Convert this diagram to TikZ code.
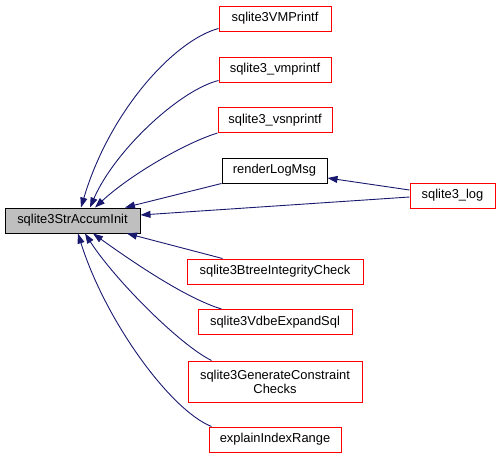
\documentclass[tikz,border=0pt]{standalone}
\usepackage{fontspec}
\setmainfont{Liberation Sans}
\usetikzlibrary{arrows.meta,calc}
\definecolor{edgeblue}{RGB}{25,25,112}
\definecolor{boxred}{RGB}{255,0,0}
\definecolor{mainfill}{RGB}{191,191,191}
\tikzset{
  fn/.style={draw=boxred, line width=1pt, fill=white, inner sep=0pt, minimum height=25pt, align=center, font=\fontsize{12.9}{15}\selectfont},
  fnblack/.style={fn, draw=black},
  mainbox/.style={fn, draw=black, fill=mainfill},
  edge/.style={draw=edgeblue, line width=0.9pt, -{Triangle[length=10pt,width=7pt]}}
}
\begin{document}
\begin{tikzpicture}[x=1pt,y=-1pt]
\useasboundingbox (0,0) rectangle (500,459);
\node[mainbox, minimum width=135pt] (main) at (72.5,220.5) {sqlite3StrAccumInit};
\node[fn, minimum width=112pt] (vm) at (275,18.5) {sqlite3VMPrintf};
\node[fn, minimum width=112pt] (vmp) at (275,69.5) {sqlite3\_vmprintf};
\node[fn, minimum width=114pt] (vsn) at (275,120) {sqlite3\_vsnprintf};
\node[fnblack, minimum width=105pt] (render) at (274.5,170.5) {renderLogMsg};
\node[fn, minimum width=85pt] (log) at (452.5,195.5) {sqlite3\_log};
\node[fn, minimum width=176pt] (btree) at (275,271.5) {sqlite3BtreeIntegrityCheck};
\node[fn, minimum width=154pt] (vdbe) at (275,322) {sqlite3VdbeExpandSql};
\node[fn, minimum width=174pt, minimum height=41pt] (gen) at (275,381.5) {sqlite3GenerateConstraint\\[-1pt]Checks};
\node[fn, minimum width=132pt] (expl) at (275,439.5) {explainIndexRange};

\draw[edge] ([yshift=3pt]vm.south west) .. controls (175,40) and (110,110) .. ([xshift=8.5pt]main.north);
\draw[edge] ([yshift=2pt]vmp.south west) .. controls (180,90) and (115,150) .. ([xshift=17.5pt]main.north);
\draw[edge] ([yshift=0pt]vsn.south west) .. controls (185,143) and (130,175) .. ([xshift=22.5pt]main.north);
\draw[edge] ([yshift=0pt]render.south west) -- ([xshift=52.5pt]main.north);
\draw[edge] ([yshift=-1.5pt]log.west) -- ([yshift=5.5pt]main.east);
\draw[edge] ([yshift=5.5pt]log.west) -- ([yshift=-7.5pt]render.east);
\draw[edge] ([xshift=36pt]btree.north west) -- ([xshift=54.5pt]main.south);
\draw[edge] ([xshift=24pt]vdbe.north west) .. controls (185,298) and (130,260) .. ([xshift=20.5pt]main.south);
\draw[edge] ([xshift=24pt]gen.north west) .. controls (180,345) and (115,280) .. ([xshift=12.5pt]main.south);
\draw[edge] ([xshift=3pt]expl.north west) .. controls (170,410) and (105,320) .. ([xshift=5.5pt]main.south);
\end{tikzpicture}
\end{document}
